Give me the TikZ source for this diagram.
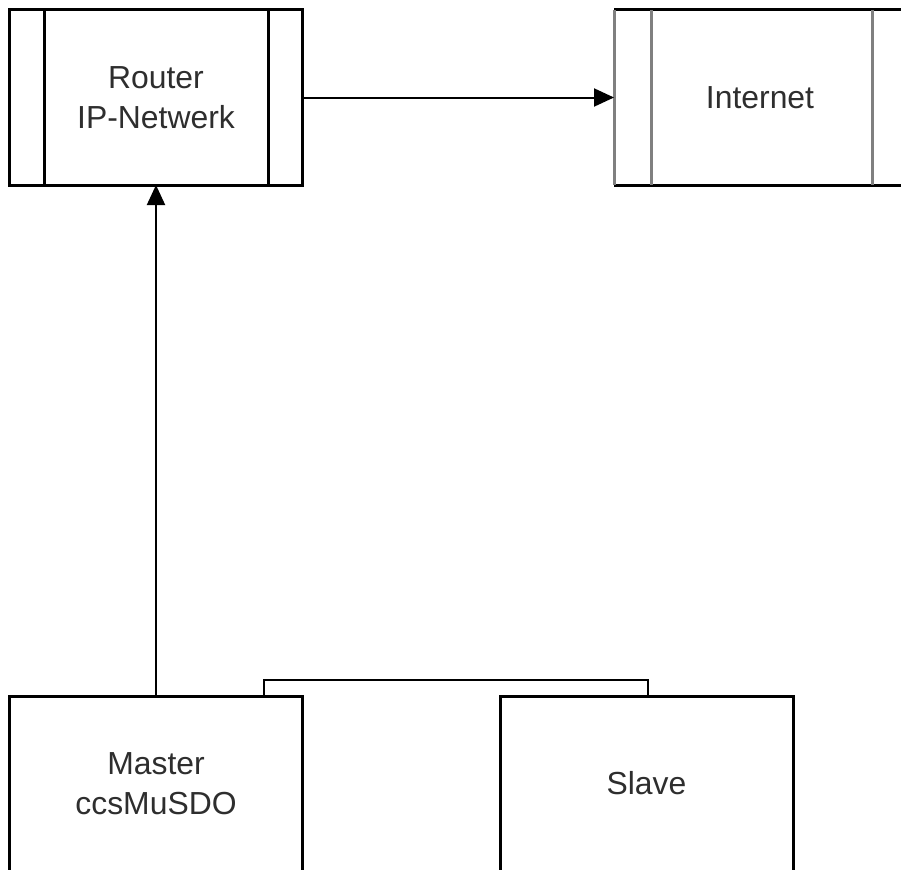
\documentclass[tikz,border=0pt]{standalone}
\usepackage{fontspec}
\setmainfont{Liberation Sans}
\usetikzlibrary{
  arrows.meta,
  positioning,
}
\tikzstyle{box} = [
  rectangle,
  line width=3bp,
  minimum width=292bp,
  minimum height=175bp,
  align=center,
  font=\fontsize{32}{40}\selectfont,
  text=black!82,
  inner sep=0pt,
  outer sep=0pt,
]
\tikzstyle{arrow} = [
  -{Triangle[length=20bp,width=18bp]},
  line width=2bp,
  black,
]
\definecolor{bargrey}{RGB}{128, 128, 128}

\begin{document}
\begin{tikzpicture}[x=1bp,y=-1bp]
      \useasboundingbox (0,0) rectangle (901,870);
      \clip (0,0) rectangle (901,870);

      \node[box,draw]    (router) at (156,97.5)    {Router\\IP-Netwerk};
      \node[box]    (internet)    [right=312bp of router]    {Internet};
      \node[box,draw]    (master)    [below=511bp of router]    {Master\\ccsMuSDO};
      \node[box,draw,minimum width=293bp]    (slave)    [right=198bp of master]    {Slave};

      % side bars
      \draw[line width=3bp] ([xshift=35bp]router.north west) -- ([xshift=35bp]router.south west);
      \draw[line width=3bp] ([xshift=-34bp]router.north east) -- ([xshift=-34bp]router.south east);
      \draw[line width=3bp] (internet.north west) -- (internet.north east)
                              (internet.south west) -- (internet.south east);
      \draw[line width=3bp,bargrey] (internet.north west) -- (internet.south west)
            ([xshift=37bp]internet.north west) -- ([xshift=37bp]internet.south west)
            ([xshift=-34bp]internet.north east) -- ([xshift=-34bp]internet.south east)
            (internet.north east) -- (internet.south east);

      \draw[arrow] (router.east) -- (internet.west);
      \draw[arrow] (master.north) -- (router.south);
      \draw[line width=2bp] ([xshift=108bp]master.north) -- ++(0,-16) -| ([xshift=1bp]slave.north);

\end{tikzpicture}
\end{document}
